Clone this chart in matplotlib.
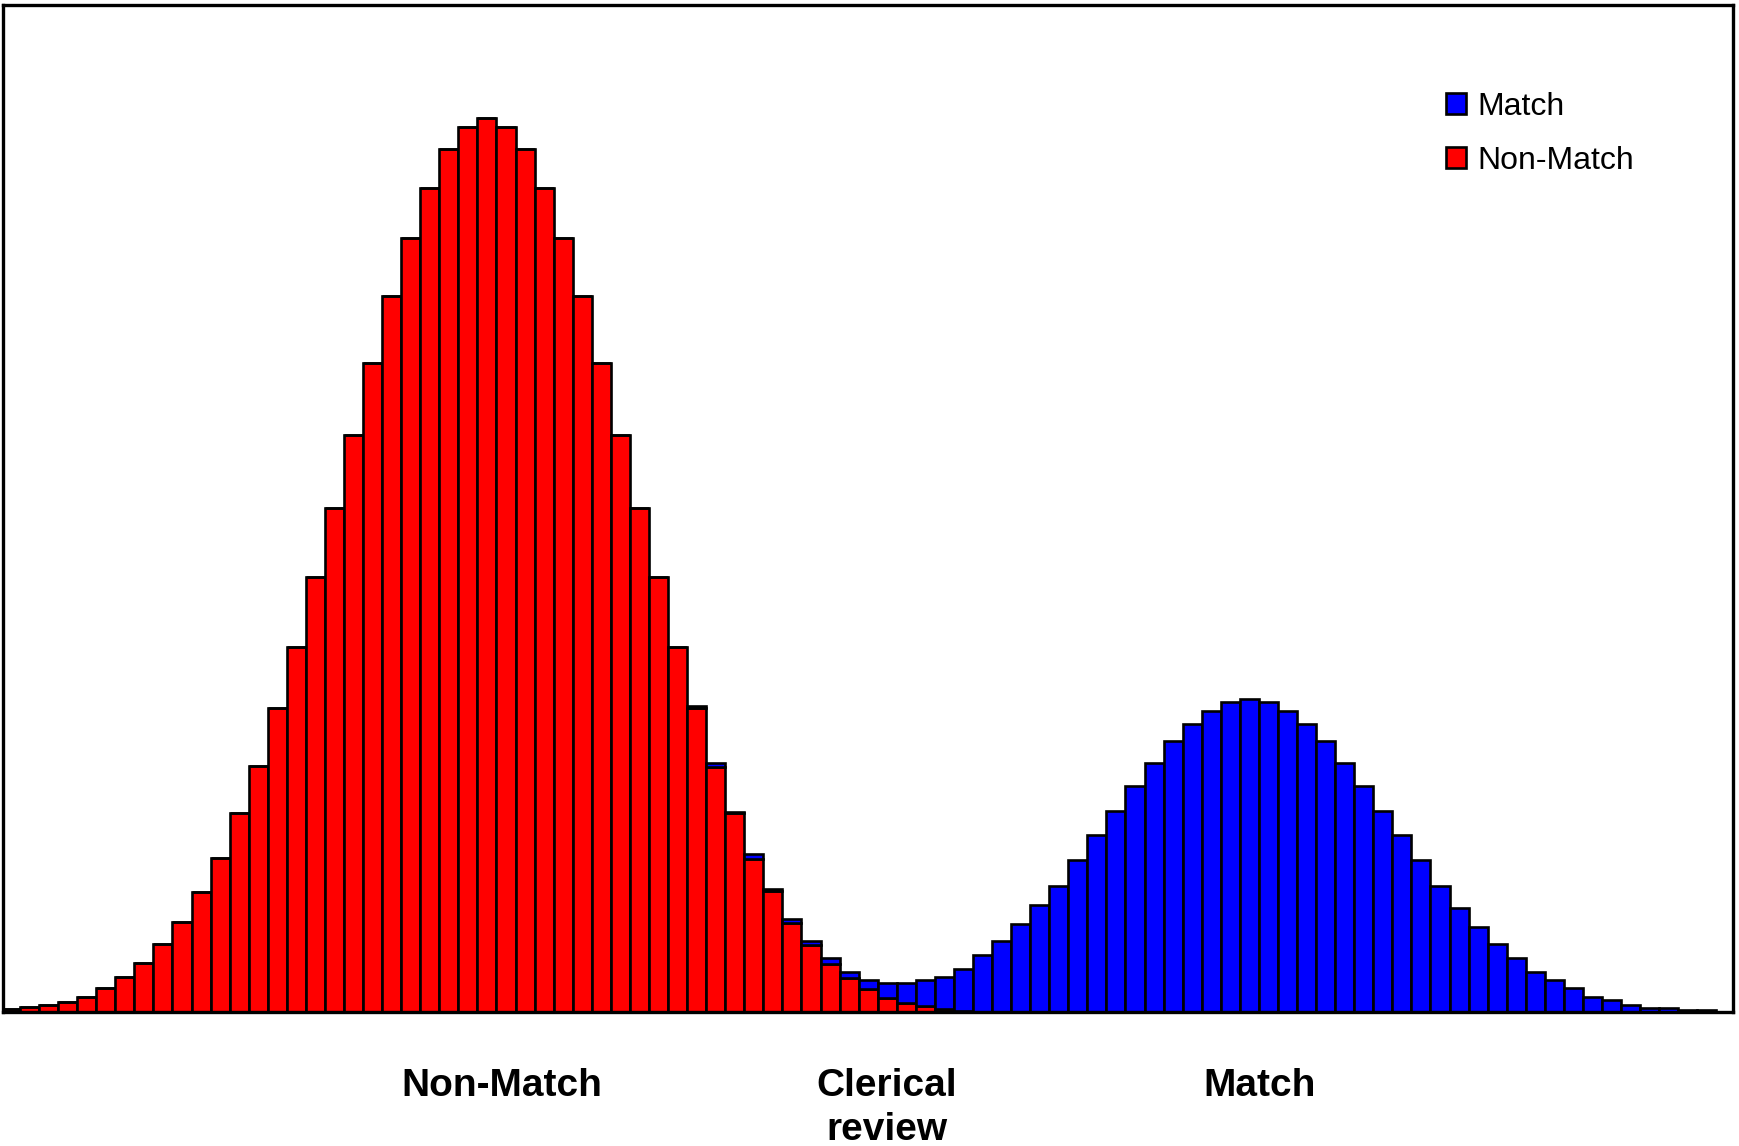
import matplotlib
matplotlib.use("Agg")
import matplotlib.pyplot as plt
import numpy as np

plt.rcParams['font.family'] = ['Liberation Sans', 'DejaVu Sans']

# Heights (arbitrary units), 90 bins
non_match = [3, 5, 7, 10, 15, 24, 35, 49, 68, 90,
             120, 154, 199, 246, 304, 365, 435, 504, 577, 649,
             716, 774, 824, 863, 885, 894, 885, 863, 824, 774,
             716, 649, 577, 504, 435, 365, 304, 245, 199, 153,
             121, 89, 67, 48, 34, 23, 14, 9, 6, 3,
             1, 0, 0, 0, 0, 0, 0, 0, 0, 0,
             0, 0, 0, 0, 0, 0, 0, 0, 0, 0,
             0, 0, 0, 0, 0, 0, 0, 0, 0, 0,
             0, 0, 0, 0, 0, 0, 0, 0, 0, 0]
match = [0, 0, 0, 0, 0, 0, 0, 0, 0, 0,
         0, 0, 0, 0, 0, 0, 0, 0, 0, 0,
         0, 0, 0, 0, 0, 0, 0, 0, 0, 0,
         0, 0, 0, 0, 0, 0, 2, 4, 1, 5,
         2, 4, 4, 6, 6, 9, 15, 20, 26, 32,
         42, 57, 71, 88, 107, 126, 152, 177, 201, 226,
         249, 271, 288, 301, 310, 313, 310, 301, 288, 271,
         249, 226, 201, 177, 152, 126, 104, 85, 68, 54,
         40, 32, 24, 15, 12, 7, 4, 4, 2, 2]
series_labels = ["Match", "Non-Match"]
zone_labels = ["Non-Match", "Clerical\nreview", "Match"]

W, H = 1739, 1146
fig = plt.figure(figsize=(W / 100, H / 100), dpi=100)
fig.patch.set_facecolor('white')

left_px, right_px, top_px, base_px = 2.5, 1733, 5, 1012
bin_px = 19.06
x0_px = 0.94
ax = fig.add_axes([left_px / W, 1 - base_px / H,
                   (right_px - left_px) / W, (base_px - top_px) / H])

x = np.arange(len(non_match))
red = np.array(non_match)
blue = np.array(match)
b_red = ax.bar(x, red, width=1.0, align='edge', color='#ff0000',
               edgecolor='black', linewidth=1.9, zorder=2)
b_blue = ax.bar(x, blue, width=1.0, align='edge', bottom=red, color='#0000ff',
                edgecolor='black', linewidth=1.9, zorder=2)

ax.set_xlim((left_px - x0_px) / bin_px, (right_px - x0_px) / bin_px)
ax.set_ylim(0, base_px - top_px)
ax.set_xticks([])
ax.set_yticks([])
for s in ax.spines.values():
    s.set_color('black')
    s.set_linewidth(2.4)
    s.set_zorder(5)

leg = ax.legend([b_blue, b_red], series_labels, loc='upper left',
                bbox_to_anchor=(1446 / W, 1 - 92 / H), bbox_transform=fig.transFigure,
                frameon=False, fontsize=23, handlelength=0.62, handleheight=0.62,
                handletextpad=0.35, labelspacing=0.74, borderpad=0, borderaxespad=0)
for p in leg.get_patches():
    p.set_linewidth(1.9)

zone_x = [502, 887, 1260]
for lab, xp in zip(zone_labels, zone_x):
    fig.text(xp / W, 1 - 1068 / H, lab, ha='center', va='top', fontsize=28,
             fontweight='bold', linespacing=1.3)

fig.savefig('out.png', dpi=100, facecolor='white')
